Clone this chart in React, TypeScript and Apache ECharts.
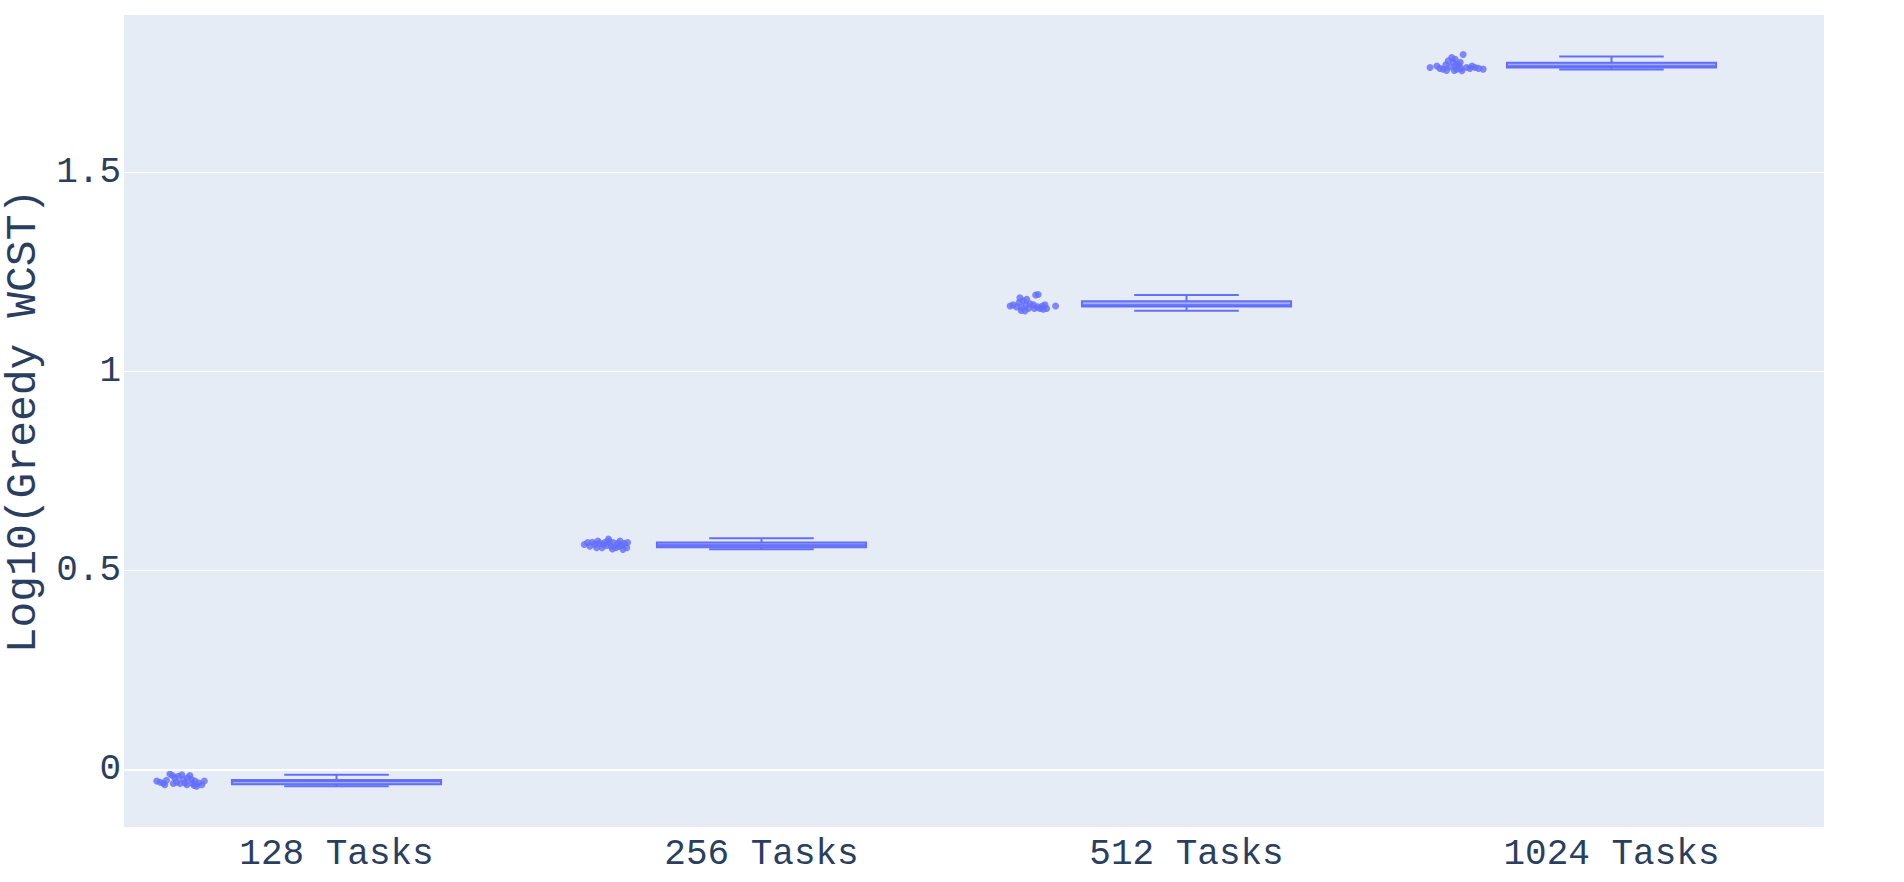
import React, { useEffect, useRef } from "react";
import * as echarts from "echarts";

const categories = ["128 Tasks", "256 Tasks", "512 Tasks", "1024 Tasks"];
const yTicks = [0, 0.5, 1, 1.5];

// Box statistics
const boxMin = [-0.042, 0.553, 1.152, 1.758];
const boxQ1 = [-0.037, 0.558, 1.163, 1.763];
const boxMedian = [-0.029, 0.563, 1.166, 1.766];
const boxQ3 = [-0.026, 0.57, 1.176, 1.775];
const boxMax = [-0.013, 0.581, 1.192, 1.791];

// Individual points: horizontal jitter (category units, relative to category centre) and values
const jitter128 = [-0.423, -0.415, -0.408, -0.4, -0.392, -0.386, -0.38, -0.376, -0.372, -0.364, -0.36, -0.356, -0.35, -0.345, -0.339, -0.333, -0.329, -0.324, -0.317, -0.311, -0.384, -0.368, -0.352, -0.404, -0.341, -0.335];
const values128 = [-0.029, -0.032, -0.034, -0.027, -0.011, -0.015, -0.021, -0.032, -0.017, -0.013, -0.025, -0.034, -0.021, -0.015, -0.035, -0.029, -0.042, -0.034, -0.038, -0.029, -0.035, -0.035, -0.038, -0.038, -0.025, -0.04];

const jitter256 = [-0.417, -0.409, -0.404, -0.398, -0.392, -0.385, -0.38, -0.375, -0.368, -0.364, -0.359, -0.354, -0.349, -0.343, -0.338, -0.333, -0.329, -0.323, -0.317, -0.315, -0.388, -0.351, -0.326, -0.372, -0.337, -0.36];
const values256 = [0.565, 0.57, 0.561, 0.571, 0.565, 0.574, 0.568, 0.557, 0.571, 0.563, 0.573, 0.561, 0.57, 0.557, 0.568, 0.574, 0.563, 0.568, 0.557, 0.57, 0.557, 0.554, 0.553, 0.565, 0.56, 0.579];

const jitter512 = [-0.415, -0.408, -0.4, -0.394, -0.392, -0.388, -0.384, -0.38, -0.378, -0.372, -0.368, -0.36, -0.355, -0.35, -0.345, -0.339, -0.333, -0.329, -0.308, -0.349, -0.389, -0.376, -0.358, -0.337];
const values512 = [1.164, 1.167, 1.162, 1.173, 1.185, 1.16, 1.177, 1.152, 1.167, 1.158, 1.17, 1.167, 1.192, 1.162, 1.158, 1.164, 1.167, 1.158, 1.164, 1.193, 1.153, 1.181, 1.158, 1.156];

const jitter1024 = [-0.427, -0.411, -0.404, -0.396, -0.39, -0.384, -0.38, -0.376, -0.372, -0.368, -0.364, -0.36, -0.356, -0.354, -0.349, -0.341, -0.333, -0.328, -0.321, -0.313, -0.302, -0.388, -0.37, -0.352, -0.367];
const values1024 = [1.763, 1.767, 1.761, 1.759, 1.77, 1.78, 1.765, 1.788, 1.776, 1.784, 1.759, 1.77, 1.776, 1.761, 1.796, 1.763, 1.761, 1.767, 1.763, 1.761, 1.759, 1.756, 1.756, 1.755, 1.767];

const jitters = [jitter128, jitter256, jitter512, jitter1024];
const pointValues = [values128, values256, values512, values1024];

const BOX_COLOR = "#636efa";
const FONT = "'Liberation Mono', 'Courier New', monospace";
const TEXT_COLOR = "#2a3f5f";

export default function App() {
  const ref = useRef<HTMLDivElement>(null);

  useEffect(() => {
    if (!ref.current) return;
    document.body.style.margin = "0";
    const chart = echarts.init(ref.current, null, { renderer: "svg" });

    const boxData = categories.map((_, i) => [i, boxMin[i], boxQ1[i], boxMedian[i], boxQ3[i], boxMax[i]]);
    const scatterData: number[][] = [];
    jitters.forEach((jit, i) => {
      jit.forEach((j, k) => {
        scatterData.push([i + j, pointValues[i][k]]);
      });
    });

    chart.setOption({
      animation: false,
      backgroundColor: "#ffffff",
      grid: {
        left: 124,
        top: 15,
        width: 1700,
        height: 812,
        show: true,
        backgroundColor: "#E5ECF6",
        borderWidth: 0,
        containLabel: false,
        outerBoundsMode: "none",
      },
      xAxis: [
        {
          type: "category",
          data: categories,
          boundaryGap: true,
          axisLine: { show: false },
          axisTick: { show: false },
          splitLine: { show: false },
          axisLabel: {
            fontFamily: FONT,
            fontSize: 36,
            color: TEXT_COLOR,
            margin: 9,
          },
        },
        {
          type: "value",
          min: -0.5,
          max: 3.5,
          show: false,
        },
      ],
      yAxis: {
        type: "value",
        min: -0.1443,
        max: 1.895,
        name: "Log10(Greedy WCST)",
        nameLocation: "middle",
        nameGap: 77,
        nameTextStyle: {
          fontFamily: FONT,
          fontSize: 43,
          lineHeight: 43,
          color: TEXT_COLOR,
        },
        axisLine: { show: false },
        axisTick: { show: false, customValues: yTicks },
        splitLine: { show: true, lineStyle: { color: "#ffffff", width: 1 } },
        axisLabel: {
          customValues: yTicks,
          fontFamily: FONT,
          fontSize: 36,
          color: TEXT_COLOR,
          margin: 3,
          formatter: (v: number) => String(v),
        },
      },
      series: [
        {
          type: "line",
          data: [],
          z: 1,
          markLine: {
            silent: true,
            symbol: "none",
            label: { show: false },
            lineStyle: { color: "#ffffff", width: 2, type: "solid" },
            data: [{ yAxis: 0 }],
          },
        },
        {
          type: "custom",
          xAxisIndex: 0,
          z: 3,
          encode: { x: 0, y: [1, 2, 3, 4, 5] },
          data: boxData,
          renderItem: (params: any, api: any) => {
            const idx = api.value(0);
            const vMin = api.value(1);
            const vQ1 = api.value(2);
            const vMed = api.value(3);
            const vQ3 = api.value(4);
            const vMax = api.value(5);
            const band = api.size([1, 0])[0];
            const half = band * 0.246;
            const cap = half / 2;
            const x = api.coord([idx, vMed])[0];
            const yMin = api.coord([idx, vMin])[1];
            const yQ1 = api.coord([idx, vQ1])[1];
            const yMed = api.coord([idx, vMed])[1];
            const yQ3 = api.coord([idx, vQ3])[1];
            const yMax = api.coord([idx, vMax])[1];
            const lineStyle = { stroke: BOX_COLOR, lineWidth: 2, fill: "none" };
            return {
              type: "group",
              children: [
                { type: "line", shape: { x1: x, y1: yQ3, x2: x, y2: yMax }, style: lineStyle },
                { type: "line", shape: { x1: x, y1: yQ1, x2: x, y2: yMin }, style: lineStyle },
                { type: "line", shape: { x1: x - cap, y1: yMax, x2: x + cap, y2: yMax }, style: lineStyle },
                { type: "line", shape: { x1: x - cap, y1: yMin, x2: x + cap, y2: yMin }, style: lineStyle },
                {
                  type: "rect",
                  shape: { x: x - half, y: yQ3, width: half * 2, height: yQ1 - yQ3 },
                  style: { fill: "rgba(99,110,250,0.5)", stroke: BOX_COLOR, lineWidth: 2 },
                },
                { type: "line", shape: { x1: x - half, y1: yMed, x2: x + half, y2: yMed }, style: lineStyle },
              ],
            };
          },
        },
        {
          type: "scatter",
          xAxisIndex: 1,
          z: 4,
          symbol: "circle",
          symbolSize: 7,
          itemStyle: { color: BOX_COLOR },
          data: scatterData,
        },
      ],
    });

    return () => {
      chart.dispose();
    };
  }, []);

  return (
    <div
      ref={ref}
      style={{ position: "fixed", left: 0, top: 0, width: 1904, height: 882 }}
    />
  );
}
